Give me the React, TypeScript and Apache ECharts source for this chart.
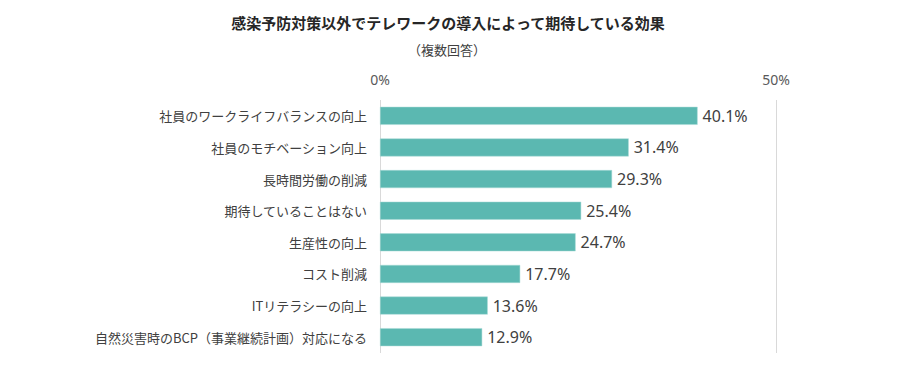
import React, { useEffect, useRef } from "react";
import * as echarts from "echarts";

const categories = [
  "社員のワークライフバランスの向上",
  "社員のモチベーション向上",
  "長時間労働の削減",
  "期待していることはない",
  "生産性の向上",
  "コスト削減",
  "ITリテラシーの向上",
  "自然災害時のBCP（事業継続計画）対応になる",
];
const values = [40.1, 31.4, 29.3, 25.4, 24.7, 17.7, 13.6, 12.9];
const titleText = "感染予防対策以外でテレワークの導入によって期待している効果";
const subtitleText = "（複数回答）";

const FONT = "'Noto Sans CJK JP', 'Noto Sans', sans-serif";
const NUMFONT = "'Noto Sans', 'Noto Sans CJK JP', sans-serif";

export default function App() {
  const ref = useRef<HTMLDivElement>(null);
  useEffect(() => {
    if (!ref.current) return;
    const chart = echarts.init(ref.current, undefined, { renderer: "svg" });
    chart.setOption({
      animation: false,
      backgroundColor: "#ffffff",
      title: [
        {
          text: titleText,
          left: 443,
          textAlign: "center",
          top: 10,
          textStyle: { fontFamily: FONT, fontSize: 15, fontWeight: "bold", color: "#262626" },
        },
        {
          text: subtitleText,
          left: 442,
          textAlign: "center",
          top: 38,
          textStyle: { fontFamily: FONT, fontSize: 13, fontWeight: "normal", color: "#404040" },
        },
      ],
      grid: { left: 380, right: 127, top: 100, bottom: 26, containLabel: false },
      xAxis: {
        type: "value",
        position: "top",
        min: 0,
        max: 50,
        interval: 50,
        axisLine: { show: false },
        axisTick: { show: false },
        axisLabel: {
          formatter: "{value}%",
          fontFamily: NUMFONT,
          fontSize: 14,
          color: "#595959",
          margin: 14,
        },
        splitLine: { show: true, lineStyle: { color: "#d9d9d9", width: 1 } },
      },
      yAxis: {
        type: "category",
        inverse: true,
        data: categories,
        axisLine: { show: false },
        axisTick: { show: false },
        axisLabel: {
          fontFamily: FONT,
          fontSize: 13,
          color: "#404040",
          margin: 13,
        },
      },
      series: [
        {
          type: "bar",
          data: values,
          barWidth: 18,
          itemStyle: { color: "#5bb8b1", borderColor: "#a8dad6", borderWidth: 0.5 },
          label: {
            show: true,
            position: "right",
            distance: 5,
            formatter: (p: any) => p.value.toFixed(1) + "%",
            fontFamily: NUMFONT,
            fontSize: 16,
            color: "#404040",
          },
        },
      ],
    });
    return () => chart.dispose();
  }, []);
  return (
    <div
      ref={ref}
      style={{ position: "fixed", left: 0, top: 0, width: 903, height: 379, background: "#fff" }}
    />
  );
}
